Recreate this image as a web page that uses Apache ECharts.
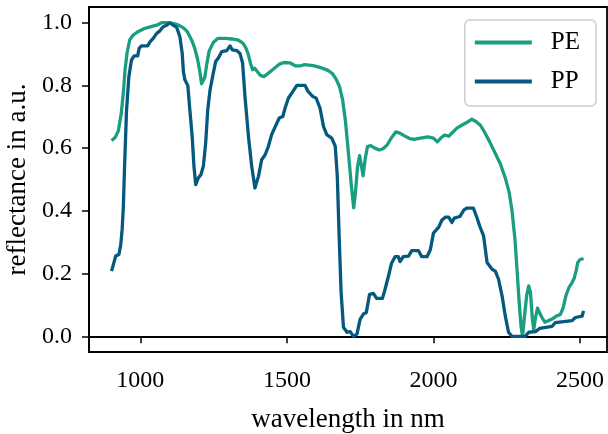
<!DOCTYPE html>
<html>
<head>
<meta charset="utf-8">
<script src="https://cdn.jsdelivr.net/npm/echarts@6/dist/echarts.min.js"></script>
<style>
html,body{margin:0;padding:0;background:#fff;}
#chart{width:608px;height:434px;}
</style>
</head>
<body>
<div id="chart"></div>
<script>
// ---- data ----
const wavelengthPE = [902,915,925,935,942,948,955,964,975,990,1016,1040,1056,1073,1090,1110,1129,1145,1160,1175,1185,1195,1203,1209,1214,1220,1227,1235,1249,1265,1290,1312,1335,1350,1360,1368,1376,1383,1390,1398,1410,1422,1445,1475,1490,1510,1530,1545,1560,1590,1615,1640,1655,1668,1680,1690,1700,1710,1720,1728,1734,1741,1748,1754,1760,1767,1775,1786,1800,1815,1828,1842,1858,1872,1885,1900,1920,1934,1955,1981,2000,2013,2025,2038,2052,2065,2080,2095,2110,2131,2145,2160,2175,2192,2210,2228,2245,2258,2268,2278,2286,2293,2299,2304,2310,2318,2325,2331,2337,2342,2348,2355,2362,2370,2380,2392,2405,2420,2433,2442,2452,2462,2472,2480,2487,2492,2500,2512];
const reflectancePE = [0.624,0.635,0.655,0.71,0.775,0.85,0.905,0.945,0.96,0.97,0.982,0.988,0.992,1.0,1.0,0.998,0.993,0.985,0.972,0.945,0.92,0.885,0.845,0.805,0.80,0.825,0.87,0.91,0.937,0.95,0.95,0.948,0.944,0.935,0.92,0.90,0.87,0.85,0.855,0.845,0.832,0.828,0.845,0.868,0.873,0.872,0.862,0.862,0.866,0.863,0.857,0.848,0.838,0.82,0.795,0.755,0.685,0.585,0.48,0.41,0.46,0.54,0.576,0.545,0.512,0.565,0.605,0.608,0.6,0.594,0.598,0.61,0.635,0.652,0.648,0.64,0.63,0.628,0.632,0.636,0.632,0.62,0.632,0.642,0.638,0.65,0.664,0.672,0.68,0.692,0.685,0.673,0.65,0.62,0.585,0.55,0.505,0.46,0.40,0.31,0.2,0.1,0.03,0.0,0.06,0.13,0.161,0.14,0.06,0.02,0.06,0.09,0.075,0.06,0.045,0.05,0.055,0.065,0.07,0.09,0.13,0.155,0.17,0.185,0.21,0.235,0.245,0.248];

const wavelengthPP = [902,910,916,927,933,938,942,947,953,961,970,979,991,996,1004,1025,1033,1044,1056,1067,1078,1090,1101,1112,1124,1135,1143,1147,1152,1162,1169,1177,1183,1189,1198,1207,1215,1223,1230,1238,1249,1257,1266,1278,1295,1306,1314,1329,1340,1349,1357,1369,1380,1391,1403,1414,1426,1437,1448,1466,1474,1486,1494,1505,1520,1534,1562,1573,1588,1600,1613,1625,1636,1653,1665,1672,1679,1685,1693,1705,1716,1727,1739,1750,1761,1771,1782,1795,1806,1826,1834,1846,1857,1869,1880,1886,1897,1915,1926,1949,1960,1978,1989,2000,2018,2029,2041,2052,2063,2071,2090,2104,2115,2136,2147,2158,2171,2183,2200,2211,2222,2234,2245,2256,2268,2313,2325,2348,2362,2405,2416,2473,2484,2507,2512];
const reflectancePP = [0.208,0.235,0.256,0.261,0.29,0.34,0.41,0.56,0.72,0.828,0.881,0.894,0.894,0.918,0.926,0.926,0.939,0.95,0.966,0.974,0.987,0.992,1.0,0.992,0.985,0.955,0.902,0.844,0.818,0.80,0.722,0.637,0.542,0.484,0.505,0.516,0.542,0.616,0.722,0.786,0.839,0.876,0.887,0.908,0.911,0.926,0.913,0.911,0.902,0.871,0.765,0.637,0.542,0.473,0.51,0.563,0.579,0.606,0.643,0.68,0.696,0.701,0.728,0.759,0.78,0.80,0.80,0.78,0.765,0.759,0.728,0.669,0.643,0.632,0.606,0.51,0.299,0.14,0.029,0.013,0.015,0.0,0.007,0.055,0.071,0.076,0.134,0.137,0.121,0.121,0.147,0.19,0.233,0.254,0.254,0.238,0.254,0.256,0.273,0.273,0.254,0.254,0.275,0.329,0.348,0.371,0.38,0.38,0.363,0.377,0.382,0.403,0.409,0.409,0.382,0.351,0.32,0.235,0.214,0.208,0.182,0.129,0.065,0.013,0.0,0.0,0.013,0.015,0.025,0.032,0.044,0.05,0.06,0.064,0.081];

const seriesNames = ['PE', 'PP'];
const xTicks = [1000, 1500, 2000, 2500];
const yTicks = [0.0, 0.2, 0.4, 0.6, 0.8, 1.0];
const xLabel = 'wavelength in nm';
const yLabel = 'reflectance in a.u.';

// ---- chart ----
const FONT = '"Liberation Serif", "Times New Roman", serif';
const colors = ['#1a9e80', '#05597f'];
const pairs = (xs, ys) => xs.map((x, i) => [x, ys[i]]);

const chart = echarts.init(document.getElementById('chart'), null, {renderer: 'canvas'});
chart.setOption({
  animation: false,
  backgroundColor: '#fff',
  grid: {left: 89, right: 1, top: 7, bottom: 82, containLabel: false, outerBoundsMode: 'none',
    show: true, borderColor: '#000', borderWidth: 1.8, backgroundColor: 'transparent'},
  legend: {
    orient: 'vertical', right: 12, top: 20,
    data: seriesNames.map(n => ({name: n, icon: 'rect'})),
    itemWidth: 57, itemHeight: 4, itemGap: 14,
    padding: [10, 16, 12, 10],
    backgroundColor: 'rgba(255,255,255,0.8)', borderColor: '#cccccc', borderWidth: 1.5, borderRadius: 5,
    textStyle: {fontFamily: FONT, fontSize: 25, color: '#000', padding: [0, 0, 0, 14]}
  },
  xAxis: {
    type: 'value', min: 825, max: 2592,
    name: xLabel, nameLocation: 'middle', nameGap: 54,
    nameTextStyle: {fontFamily: FONT, fontSize: 27, color: '#000'},
    axisLine: {show: true, lineStyle: {color: '#000', width: 1.8}},
    axisTick: {show: true, customValues: xTicks, length: 7, lineStyle: {color: '#000', width: 1.5}},
    axisLabel: {customValues: xTicks, margin: 17, fontFamily: FONT, fontSize: 24, color: '#000',
      formatter: v => String(v)},
    splitLine: {show: false}
  },
  yAxis: {
    type: 'value', min: -0.05, max: 1.05,
    name: yLabel, nameLocation: 'middle', nameGap: 58,
    nameTextStyle: {fontFamily: FONT, fontSize: 27, color: '#000'},
    axisLine: {show: true, lineStyle: {color: '#000', width: 1.8}},
    axisTick: {show: true, customValues: yTicks, length: 7, lineStyle: {color: '#000', width: 1.5}},
    axisLabel: {customValues: yTicks, margin: 17, fontFamily: FONT, fontSize: 24, color: '#000',
      formatter: v => Number(v).toFixed(1)},
    splitLine: {show: false}
  },
  series: [
    {name: seriesNames[0], type: 'line', data: pairs(wavelengthPE, reflectancePE), showSymbol: false,
     lineStyle: {color: colors[0], width: 3.3, join: 'round'}, itemStyle: {color: colors[0]}, z: 2},
    {name: seriesNames[1], type: 'line', data: pairs(wavelengthPP, reflectancePP), showSymbol: false,
     lineStyle: {color: colors[1], width: 3.3, join: 'round'}, itemStyle: {color: colors[1]}, z: 3}
  ]
});
</script>
</body>
</html>
